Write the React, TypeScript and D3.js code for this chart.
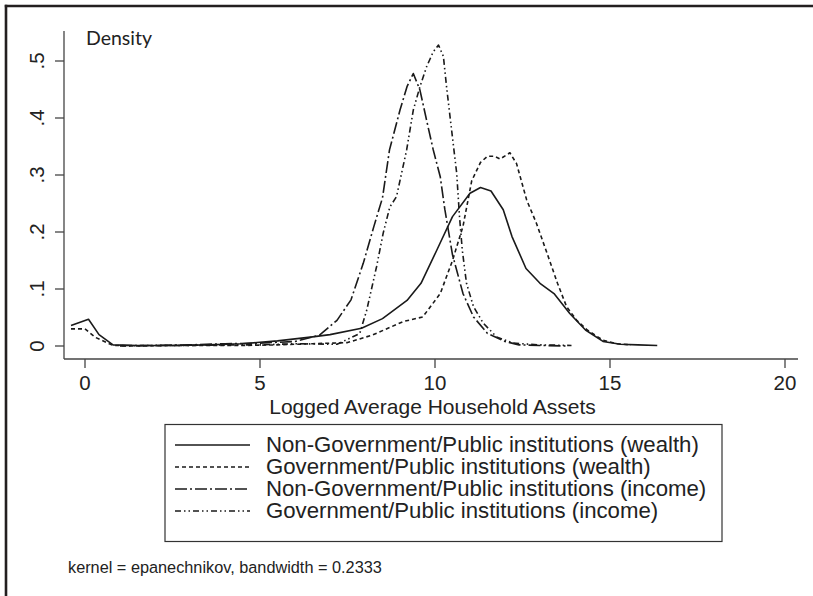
import React from "react";
import * as d3 from "d3";

const nonGovWealthX = [-0.4, 0.1, 0.4, 0.8, 1.5, 2.5, 3.5, 4.5, 5.5, 6.5, 7.0, 7.9, 8.5, 9.2, 9.6, 10.05, 10.5, 11.0, 11.3, 11.6, 11.95, 12.2, 12.6, 13.0, 13.4, 13.85, 14.3, 14.8, 15.3, 15.8, 16.35];
const nonGovWealthY = [0.036, 0.047, 0.02, 0.002, 0.001, 0.001, 0.002, 0.004, 0.009, 0.016, 0.02, 0.031, 0.048, 0.08, 0.11, 0.168, 0.227, 0.268, 0.278, 0.272, 0.239, 0.192, 0.136, 0.11, 0.092, 0.057, 0.028, 0.008, 0.003, 0.002, 0.001];

const govWealthX = [-0.4, 0.0, 0.3, 0.8, 1.5, 2.5, 3.5, 4.5, 5.5, 6.5, 7.5, 8.2, 9.1, 9.65, 10.15, 10.5, 10.8, 11.05, 11.3, 11.5, 11.7, 11.86, 12.14, 12.33, 12.62, 12.9, 13.2, 13.5, 13.76, 14.05, 14.35, 14.8, 15.2, 15.6];
const govWealthY = [0.03, 0.03, 0.015, 0.001, 0.0, 0.001, 0.001, 0.001, 0.002, 0.004, 0.006, 0.019, 0.043, 0.051, 0.092, 0.15, 0.21, 0.29, 0.322, 0.333, 0.333, 0.328, 0.339, 0.32, 0.256, 0.215, 0.163, 0.11, 0.069, 0.045, 0.028, 0.01, 0.004, 0.002];

const nonGovIncomeX = [1.0, 2.0, 3.0, 4.0, 5.0, 6.0, 6.7, 7.2, 7.6, 7.95, 8.25, 8.5, 8.7, 9.0, 9.2, 9.38, 9.57, 9.76, 9.95, 10.15, 10.28, 10.5, 10.8, 11.1, 11.5, 12.0, 12.4, 13.0, 13.8];
const nonGovIncomeY = [0.001, 0.001, 0.002, 0.004, 0.005, 0.008, 0.019, 0.045, 0.081, 0.145, 0.209, 0.26, 0.344, 0.414, 0.455, 0.478, 0.449, 0.396, 0.344, 0.297, 0.24, 0.16, 0.092, 0.051, 0.022, 0.008, 0.002, 0.001, 0.0];

const govIncomeX = [1.0, 2.0, 3.0, 4.0, 5.0, 6.0, 7.2, 7.85, 8.05, 8.33, 8.52, 8.71, 8.9, 9.19, 9.38, 9.57, 9.76, 9.95, 10.1, 10.24, 10.33, 10.43, 10.52, 10.62, 10.7, 10.78, 10.9, 11.1, 11.38, 11.76, 12.24, 13.0, 13.9];
const govIncomeY = [0.0, 0.001, 0.001, 0.002, 0.002, 0.004, 0.003, 0.022, 0.063, 0.139, 0.198, 0.244, 0.262, 0.344, 0.414, 0.455, 0.49, 0.516, 0.528, 0.508, 0.455, 0.402, 0.355, 0.303, 0.227, 0.168, 0.11, 0.069, 0.04, 0.016, 0.005, 0.002, 0.001];

const xTicks = [0, 5, 10, 15, 20];
const yTicks = [0, 0.1, 0.2, 0.3, 0.4, 0.5];
const yTickLabels = ["0", ".1", ".2", ".3", ".4", ".5"];

const seriesLabels = [
  "Non-Government/Public institutions (wealth)",
  "Government/Public institutions (wealth)",
  "Non-Government/Public institutions (income)",
  "Government/Public institutions (income)",
];
const dashes = ["none", "4 3", "12 3 2 3", "6 3 1.5 3 1.5 3"];

const xTitle = "Logged Average Household Assets";
const yTitle = "Density";
const note = "kernel = epanechnikov, bandwidth = 0.2333";

export default function App() {
  const W = 813, H = 596;
  const x = d3.scaleLinear().domain([0, 20]).range([85, 785]);
  const y = d3.scaleLinear().domain([0, 0.5]).range([346, 61]);
  const plotLeft = 64, plotRight = 798, plotTop = 31, plotBottom = 359;
  const ink = "#231f20";

  const series = [
    nonGovWealthX.map((v, i) => [v, nonGovWealthY[i]]),
    govWealthX.map((v, i) => [v, govWealthY[i]]),
    nonGovIncomeX.map((v, i) => [v, nonGovIncomeY[i]]),
    govIncomeX.map((v, i) => [v, govIncomeY[i]]),
  ] as [number, number][][];

  const line = d3.line<[number, number]>().x(d => x(d[0])).y(d => y(d[1]));
  const sans = "'Liberation Sans', Arial, Helvetica, sans-serif";

  const legendRowY = [445, 467, 489, 511];

  return (
    <svg width={W} height={H} style={{ position: "absolute", left: 0, top: 0, background: "#fff" }}>
      <rect x={0} y={0} width={W} height={H} fill="#fff" />
      {/* outer frame (top and left) */}
      <line x1={4.8} y1={6} x2={W} y2={6} stroke={ink} strokeWidth={2.6} />
      <line x1={6} y1={4.8} x2={6} y2={H} stroke={ink} strokeWidth={2.6} />

      {/* axes */}
      <line x1={plotLeft} y1={plotTop} x2={plotLeft} y2={plotBottom} stroke="#444" strokeWidth={1.3} />
      <line x1={plotLeft} y1={plotBottom} x2={plotRight} y2={plotBottom} stroke="#444" strokeWidth={1.3} />
      {yTicks.map((t, i) => (
        <g key={"y" + i}>
          <line x1={plotLeft - 9} x2={plotLeft} y1={y(t)} y2={y(t)} stroke="#444" strokeWidth={1.3} />
          <text transform={`translate(44,${y(t)}) rotate(-90)`} textAnchor="middle" fontFamily={sans} fontSize={20.5} fill="#222">
            {yTickLabels[i]}
          </text>
        </g>
      ))}
      {xTicks.map((t, i) => (
        <g key={"x" + i}>
          <line x1={x(t)} x2={x(t)} y1={plotBottom} y2={plotBottom + 9} stroke="#444" strokeWidth={1.3} />
          <text x={x(t)} y={390} textAnchor="middle" fontFamily={sans} fontSize={20.5} fill="#222">
            {t}
          </text>
        </g>
      ))}
      <text x={432.5} y={413.5} textAnchor="middle" fontFamily={sans} fontSize={21} fill="#222">{xTitle}</text>
      <text x={86} y={45} fontFamily="Lato, 'Open Sans', sans-serif" fontSize={19.5} fill="#222">{yTitle}</text>

      {/* curves */}
      {series.map((s, i) => (
        <path key={"s" + i} d={line(s) || ""} fill="none" stroke="#1a1a1a" strokeWidth={1.6}
          strokeDasharray={dashes[i]} strokeLinejoin="round" />
      ))}

      {/* legend */}
      <rect x={165} y={424.5} width={557} height={117} fill="none" stroke="#333" strokeWidth={1.2} />
      {seriesLabels.map((lab, i) => (
        <g key={"l" + i}>
          <line x1={175} x2={250} y1={legendRowY[i]} y2={legendRowY[i]} stroke="#1a1a1a" strokeWidth={1.6} strokeDasharray={dashes[i]} />
          <text x={266} y={legendRowY[i] + 7} fontFamily={sans} fontSize={22.2} fill="#222">{lab}</text>
        </g>
      ))}

      <text x={68} y={573} fontFamily={sans} fontSize={16.3} fill="#222">{note}</text>
    </svg>
  );
}
